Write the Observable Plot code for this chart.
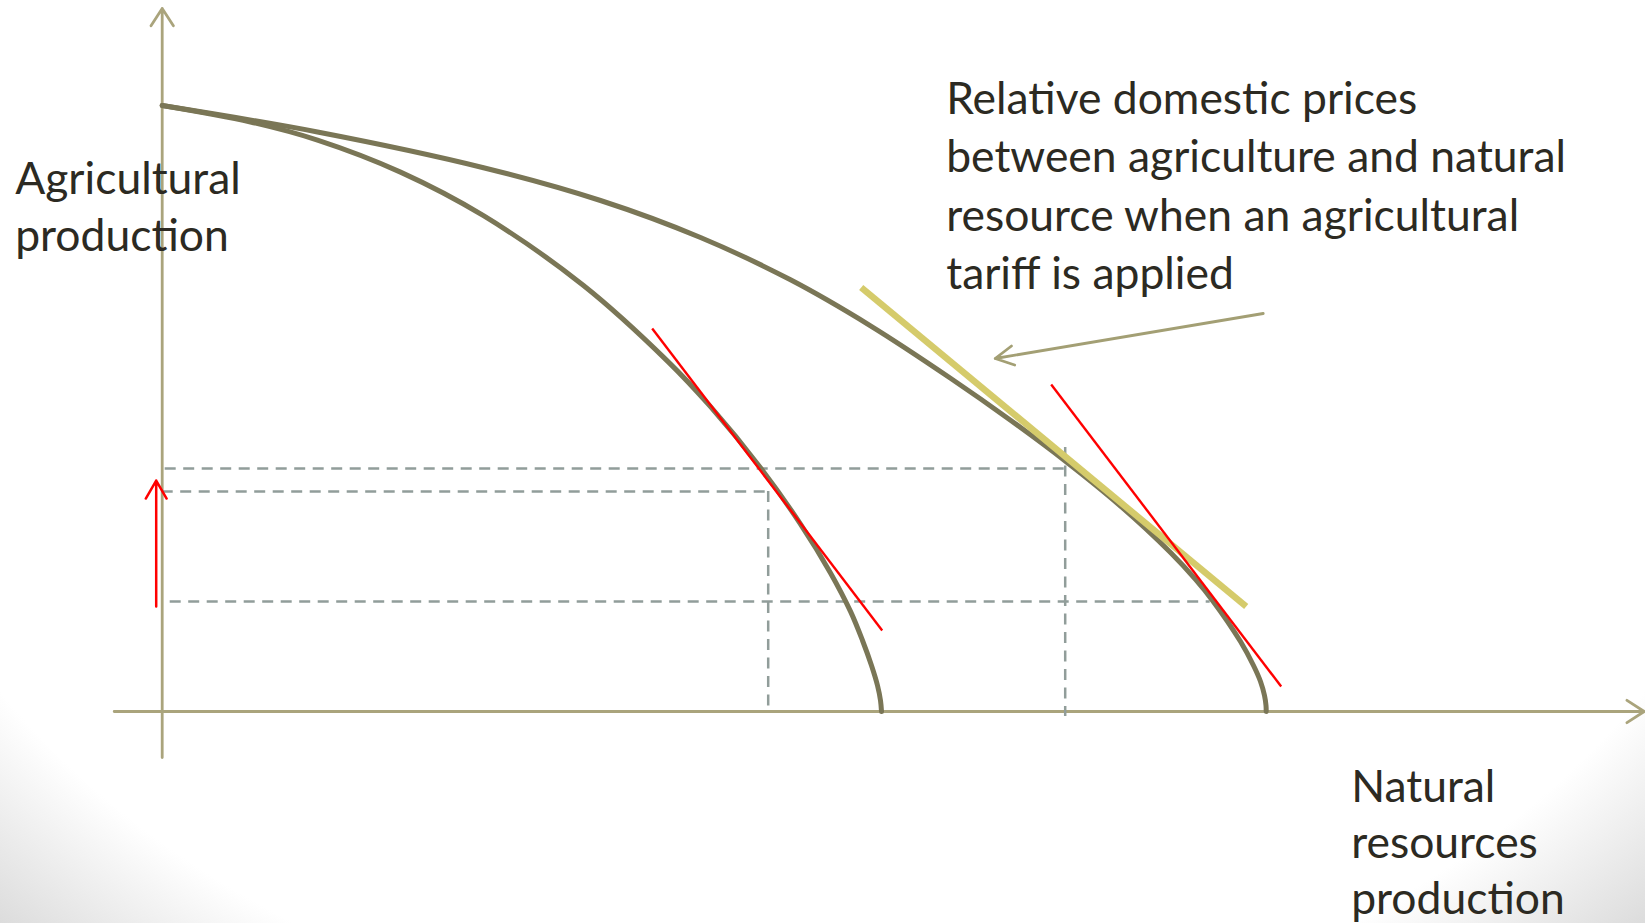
<!DOCTYPE html>
<html>
<head>
<meta charset="utf-8">
<script src="https://cdn.jsdelivr.net/npm/d3@7"></script>
<script src="https://cdn.jsdelivr.net/npm/@observablehq/plot@0.6"></script>
<style>
  html, body { margin: 0; padding: 0; }
  body {
    width: 1645px; height: 923px; overflow: hidden;
    background: radial-gradient(ellipse farthest-corner at 50% 30%, #ffffff 0%, #ffffff 84%, #dcdcdc 100%);
  }
  #chart svg { display: block; background: transparent !important; }
</style>
</head>
<body>
<div id="chart"></div>
<script>
// ---- Data (x = natural resources production, y = agricultural production) ----
const innerFrontier = [
  {x: 0.0, y: 60.6}, {x: 8.83, y: 58.95}, {x: 15.53, y: 57.14}, {x: 23.83, y: 53.94},
  {x: 32.13, y: 49.58}, {x: 42.13, y: 42.6}, {x: 50.53, y: 35.04}, {x: 54.83, y: 30.48},
  {x: 59.83, y: 24.38}, {x: 63.83, y: 18.74}, {x: 66.83, y: 13.86}, {x: 68.83, y: 10.01},
  {x: 70.03, y: 7.1}, {x: 70.93, y: 4.6}, {x: 71.53, y: 2.6}, {x: 71.83, y: 1.1},
  {x: 71.93, y: 0.0}
];
const outerFrontier = [
  {x: 0.0, y: 60.6}, {x: 15.53, y: 57.95}, {x: 32.13, y: 54.38}, {x: 43.83, y: 51.1},
  {x: 53.83, y: 47.4}, {x: 62.83, y: 43.17}, {x: 70.83, y: 38.57}, {x: 78.83, y: 33.33},
  {x: 84.83, y: 29.13}, {x: 90.33, y: 25.03}, {x: 95.83, y: 20.55}, {x: 100.83, y: 15.9},
  {x: 103.33, y: 13.21}, {x: 105.03, y: 11.11}, {x: 107.83, y: 7.0}, {x: 109.13, y: 4.6},
  {x: 109.83, y: 3.0}, {x: 110.23, y: 1.6}, {x: 110.38, y: 0.6}, {x: 110.4, y: 0.0}
];
const worldPriceLines = [
  {x1: 49.0, y1: 38.3, x2: 72.0, y2: 8.1},
  {x1: 88.9, y1: 32.7, x2: 111.9, y2: 2.5}
];
const tariffPriceLine = [{x1: 69.9, y1: 42.4, x2: 108.4, y2: 10.5}];
const guidesH = [
  {y: 24.3, x1: 0.3, x2: 90.3},
  {y: 22.0, x1: 0.0, x2: 60.6},
  {y: 11.0, x1: 0.8, x2: 104.8}
];
const guidesV = [
  {x: 60.6, y1: 22.0, y2: 0.5},
  {x: 90.3, y1: 26.4, y2: -0.5}
];
const axesLines = [
  {x1: 0, y1: -4.6, x2: 0, y2: 70.3},
  {x1: -4.8, y1: 0, x2: 148.2, y2: 0}
];
const shiftArrow = [{x1: -0.6, y1: 10.5, x2: -0.6, y2: 23.1}];
const calloutArrow = [{x1: 110.1, y1: 39.8, x2: 83.3, y2: 35.3}];
const yAxisLabel = ["Agricultural", "production"];
const xAxisLabel = ["Natural", "resources", "production"];
const calloutLabel = [
  "Relative domestic prices",
  "between agriculture and natural",
  "resource when an agricultural",
  "tariff is applied"
];

// ---- Font sizing: fit the reference line width ----
const FONT = "Lato";
const ctx = document.createElement("canvas").getContext("2d");
ctx.font = `100px ${FONT}`;
const fs = 100 * 620 / ctx.measureText("between agriculture and natural").width;

const textColor = "#2c2a22";
const axisColor = "#aaa47c";
const curveColor = "#7a7656";
const dashColor = "#919d9a";

const chart = Plot.plot({
  width: 1645,
  height: 923,
  margin: 0,
  style: {background: "transparent", overflow: "visible"},
  x: {domain: [-16.17, 148.33], axis: null},
  y: {domain: [-21.2, 71.1], axis: null},
  marks: [
    Plot.arrow(axesLines, {x1: "x1", y1: "y1", x2: "x2", y2: "y2", stroke: axisColor, strokeWidth: 2.8, headLength: 11, headAngle: 66}),
    Plot.ruleY(guidesH, {y: "y", x1: "x1", x2: "x2", stroke: dashColor, strokeWidth: 2.5, strokeDasharray: "11,7.5"}),
    Plot.ruleX(guidesV, {x: "x", y1: "y1", y2: "y2", stroke: dashColor, strokeWidth: 2.5, strokeDasharray: "11,7.5"}),
    Plot.line(outerFrontier, {x: "x", y: "y", stroke: curveColor, strokeWidth: 5, curve: "catmull-rom"}),
    Plot.line(innerFrontier, {x: "x", y: "y", stroke: curveColor, strokeWidth: 5, curve: "catmull-rom"}),
    Plot.link(tariffPriceLine, {x1: "x1", y1: "y1", x2: "x2", y2: "y2", stroke: "#d5cb6b", strokeWidth: 6.5}),
    Plot.link(worldPriceLines, {x1: "x1", y1: "y1", x2: "x2", y2: "y2", stroke: "#ff0000", strokeWidth: 2.4}),
    Plot.arrow(shiftArrow, {x1: "x1", y1: "y1", x2: "x2", y2: "y2", stroke: "#ff0000", strokeWidth: 2.5, headLength: 12.5, headAngle: 60}),
    Plot.arrow(calloutArrow, {x1: "x1", y1: "y1", x2: "x2", y2: "y2", stroke: "#a39f74", strokeWidth: 2.8, headLength: 11, headAngle: 56}),
    Plot.text([yAxisLabel.join("\n")], {x: -14.7, y: 46.1, text: d => d, textAnchor: "start", lineAnchor: "bottom", fontSize: fs, lineHeight: 57 / fs, fontFamily: FONT, fill: textColor}),
    Plot.text([calloutLabel.join("\n")], {x: 78.4, y: 42.26, text: d => d, textAnchor: "start", lineAnchor: "bottom", fontSize: fs, lineHeight: 58.4 / fs, fontFamily: FONT, fill: textColor}),
    Plot.text([xAxisLabel.join("\n")], {x: 118.9, y: -20.2, text: d => d, textAnchor: "start", lineAnchor: "bottom", fontSize: fs, lineHeight: 56 / fs, fontFamily: FONT, fill: textColor})
  ]
});
document.getElementById("chart").appendChild(chart);
</script>
</body>
</html>
